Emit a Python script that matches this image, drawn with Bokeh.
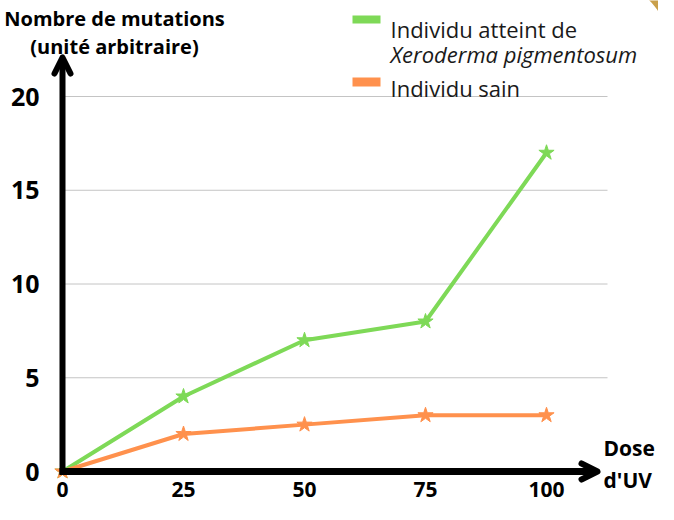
import numpy as np
from bokeh.plotting import figure
from bokeh.models import (Range1d, LinearAxis, FixedTicker, Label, Arrow,
                          OpenHead, BoxAnnotation, PolyAnnotation)
from bokeh.embed import file_html
from bokeh.resources import INLINE

# ---- data ----
dose = [0, 25, 50, 75, 100]
xp_values = [0, 4, 7, 8, 17]          # Individu atteint de Xeroderma pigmentosum
sain_values = [0, 2, 2.5, 3, 3]       # Individu sain
x_ticks = [0, 25, 50, 75, 100]
y_ticks = [0, 5, 10, 15, 20]
grid_values = [5, 10, 15, 20]

GREEN = "#7ED957"
ORANGE = "#FF914D"
GOLD = "#C9A04B"
BOLD_FONT = "Open Sans"

W, H = 658, 504
# canvas-pixel geometry
X0_PX, PX_PER_X = 62.0, 4.84
Y0_PX = 471.0
PX_PER_Y = (Y0_PX - 96.0) / 20.0


def xd(sx):
    return (sx - X0_PX) / PX_PER_X


def yd(sy):
    return (Y0_PX - sy) / PX_PER_Y


p = figure(width=W, height=H,
           x_range=Range1d(xd(0), xd(W)),
           y_range=Range1d(yd(H), yd(0)),
           x_axis_type=None, y_axis_type=None,
           toolbar_location=None, output_backend="svg",
           min_border=0)
p.outline_line_color = None
p.background_fill_color = "white"
p.border_fill_color = "white"

# decorative corner of the slide (top right)
a1 = np.linspace(-np.pi * 0.6, 0, 40)
cx, cy, r = 586.0, 60.0, 87.0
gx = list(cx + r * np.cos(a1)) + [720, 720]
gy = list(cy + r * np.sin(a1)) + [60, -40]
p.add_layout(PolyAnnotation(xs=[xd(v) for v in gx], ys=[yd(v) for v in gy],
                            fill_color=GOLD, fill_alpha=1.0, line_color=None))

# grid lines (stop at the end of the x span)
x_end = xd(607)
p.segment(x0=[0] * len(grid_values), x1=[x_end] * len(grid_values),
          y0=grid_values, y1=grid_values, line_color="#c4c4c4", line_width=1)

# series
p.line(dose, xp_values, line_color=GREEN, line_width=4)
p.scatter(dose, xp_values, marker="star", size=16, fill_color=GREEN, line_color=GREEN)
p.line(dose, sain_values, line_color=ORANGE, line_width=4)
p.scatter(dose, sain_values, marker="star", size=16, fill_color=ORANGE, line_color=ORANGE)

# axes (tick labels only; axis lines drawn as arrows)
xaxis = LinearAxis(fixed_location=0, ticker=FixedTicker(ticks=x_ticks),
                   axis_line_color=None, major_tick_line_color=None,
                   minor_tick_line_color=None,
                   major_label_text_font=BOLD_FONT,
                   major_label_text_font_size="21px",
                   major_label_text_font_style="bold",
                   major_label_text_color="black",
                   major_label_standoff=4)
p.add_layout(xaxis, "below")
yaxis = LinearAxis(fixed_location=0, ticker=FixedTicker(ticks=y_ticks),
                   axis_line_color=None, major_tick_line_color=None,
                   minor_tick_line_color=None,
                   major_label_text_font=BOLD_FONT,
                   major_label_text_font_size="25px",
                   major_label_text_font_style="bold",
                   major_label_text_color="black",
                   major_label_standoff=17)
p.add_layout(yaxis, "left")

p.add_layout(Arrow(end=OpenHead(size=16, line_width=6, line_color="black",
                                line_cap="round", line_join="round"),
                   x_start=xd(59), y_start=0, x_end=xd(597), y_end=0,
                   line_width=7, line_color="black"))
p.add_layout(Arrow(end=OpenHead(size=16, line_width=6, line_color="black",
                                line_cap="round", line_join="round"),
                   x_start=0, y_start=yd(474), x_end=0, y_end=yd(57),
                   line_width=6, line_color="black"))

# axis titles
def bold_label(x, y, text, align="left", size="22px"):
    p.add_layout(Label(x=x, y=y, text=text, text_align=align,
                       text_baseline="alphabetic", text_font=BOLD_FONT,
                       text_font_style="bold", text_font_size=size,
                       text_color="black"))

bold_label(xd(114), yd(18), "Nombre de mutations", "center", "20px")
bold_label(xd(114), yd(46), "(unité arbitraire)", "center", "20px")
bold_label(xd(603), yd(447), "Dose", "left", "21px")
bold_label(xd(603), yd(479), "d'UV", "left", "21px")

# legend (manual, for the italic second line)
p.add_layout(BoxAnnotation(left=xd(352), right=xd(380), top=yd(15), bottom=yd(23),
                           fill_color=GREEN, fill_alpha=1.0, line_color=None))
p.add_layout(BoxAnnotation(left=xd(352), right=xd(380), top=yd(77), bottom=yd(86),
                           fill_color=ORANGE, fill_alpha=1.0, line_color=None))
for (yy, txt, style) in [(28, "Individu atteint de", "normal"),
                         (53, "Xeroderma pigmentosum", "italic"),
                         (87, "Individu sain", "normal")]:
    p.add_layout(Label(x=xd(390), y=yd(yy), text=txt, text_align="left",
                       text_baseline="alphabetic", text_font="Open Sans",
                       text_font_style=style, text_font_size="22px",
                       text_color="#1a1a1a"))

open("out.html", "w").write(file_html(p, INLINE))
